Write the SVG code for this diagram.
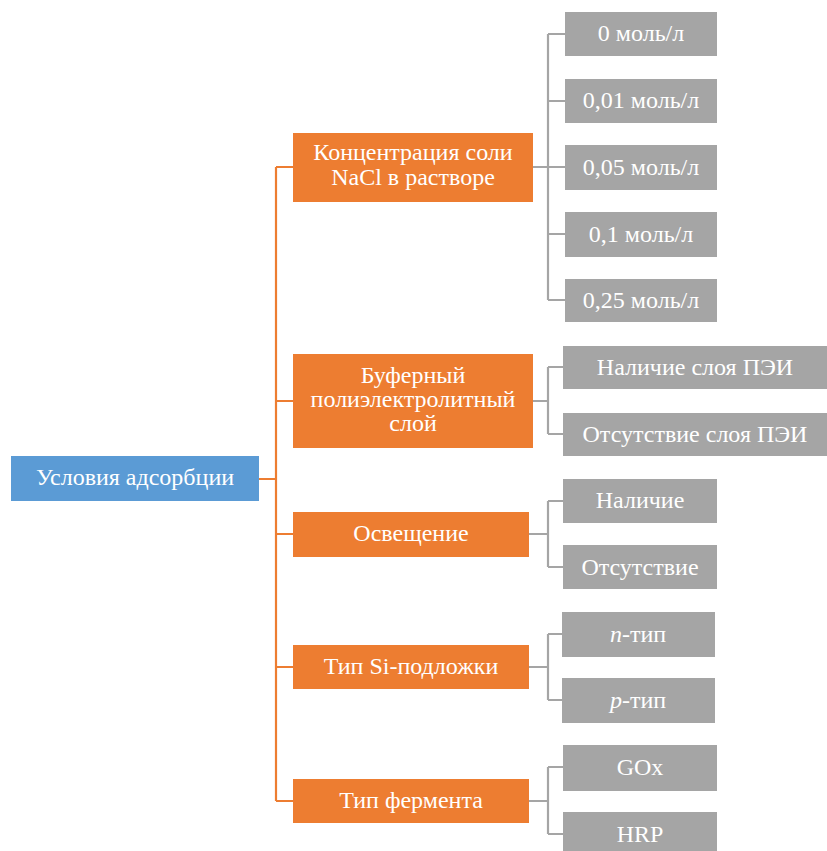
<svg xmlns="http://www.w3.org/2000/svg" width="827" height="851" viewBox="0 0 827 851">
<style>
.root{fill:#5B9BD5}
.cat{fill:#ED7D31}
.leaf{fill:#A5A5A5}
.t{font-family:'Liberation Serif','Times New Roman',serif;font-size:24px;fill:#FFFFFF;text-anchor:middle}
.oc{stroke:#ED7D31;stroke-width:2.2;fill:none}
.gc{stroke:#A5A5A5;stroke-width:2.2;fill:none}
</style>
<rect width="827" height="851" fill="#FFFFFF"/>
<g id="connectors">
<path class="oc" d="M259 479 H276 M276 167 V801 M276 167 H293 M276 401 H293 M276 534 H293 M276 667 H293 M276 801 H293"/>
<path class="gc" d="M533 167 H548 M548 34 V300 M548 34 H565 M548 101 H565 M548 167 H565 M548 234 H565 M548 300 H565"/>
<path class="gc" d="M533 401 H548 M548 367 V434 M548 367 H563 M548 434 H563"/>
<path class="gc" d="M529 534 H548 M548 501 V567 M548 501 H563 M548 567 H563"/>
<path class="gc" d="M529 667 H548 M548 634 V700 M548 634 H562 M548 700 H562"/>
<path class="gc" d="M529 801 H548 M548 767 V834 M548 767 H563 M548 834 H563"/>
</g>
<g id="root"><rect class="root" x="11" y="456" width="248" height="45"/><text class="t" x="135" y="485">Условия адсорбции</text></g>
<g id="cat1"><rect class="cat" x="293" y="133" width="240" height="69"/><text class="t" x="413" y="160">Концентрация соли</text><text class="t" x="413" y="185">NaCl в растворе</text></g>
<g id="cat2"><rect class="cat" x="293" y="354" width="240" height="94"/><text class="t" x="413" y="383">Буферный</text><text class="t" x="413" y="407">полиэлектролитный</text><text class="t" x="413" y="431">слой</text></g>
<g id="cat3"><rect class="cat" x="293" y="512" width="236" height="45"/><text class="t" x="411" y="541">Освещение</text></g>
<g id="cat4"><rect class="cat" x="293" y="645" width="236" height="44"/><text class="t" x="411" y="674">Тип Si-подложки</text></g>
<g id="cat5"><rect class="cat" x="293" y="779" width="236" height="44"/><text class="t" x="411" y="808">Тип фермента</text></g>
<g id="l1"><rect class="leaf" x="565" y="12" width="152" height="44"/><text class="t" x="641" y="41">0 моль/л</text></g>
<g id="l2"><rect class="leaf" x="565" y="79" width="152" height="44"/><text class="t" x="641" y="108">0,01 моль/л</text></g>
<g id="l3"><rect class="leaf" x="565" y="145" width="152" height="45"/><text class="t" x="641" y="175">0,05 моль/л</text></g>
<g id="l4"><rect class="leaf" x="565" y="212" width="152" height="45"/><text class="t" x="641" y="242">0,1 моль/л</text></g>
<g id="l5"><rect class="leaf" x="565" y="279" width="152" height="43"/><text class="t" x="641" y="308">0,25 моль/л</text></g>
<g id="l6"><rect class="leaf" x="563" y="346" width="264" height="43"/><text class="t" x="695" y="375">Наличие слоя ПЭИ</text></g>
<g id="l7"><rect class="leaf" x="563" y="413" width="264" height="43"/><text class="t" x="695" y="442">Отсутствие слоя ПЭИ</text></g>
<g id="l8"><rect class="leaf" x="563" y="479" width="154" height="44"/><text class="t" x="640" y="508">Наличие</text></g>
<g id="l9"><rect class="leaf" x="563" y="545" width="154" height="44"/><text class="t" x="640" y="575">Отсутствие</text></g>
<g id="l10"><rect class="leaf" x="562" y="612" width="153" height="45"/><text class="t" x="638" y="642"><tspan font-style="italic">n</tspan>-тип</text></g>
<g id="l11"><rect class="leaf" x="562" y="678" width="153" height="45"/><text class="t" x="638" y="708"><tspan font-style="italic">p</tspan>-тип</text></g>
<g id="l12"><rect class="leaf" x="563" y="745" width="154" height="46"/><text class="t" x="640" y="775">GOx</text></g>
<g id="l13"><rect class="leaf" x="563" y="812" width="154" height="39"/><text class="t" x="640" y="842">HRP</text></g>
</svg>
